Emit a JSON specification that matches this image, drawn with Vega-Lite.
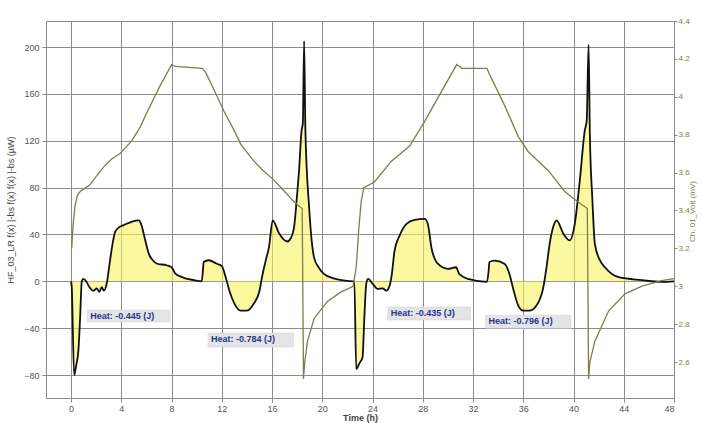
{
  "$schema": "https://vega.github.io/schema/vega-lite/v6.json",
  "width": 628,
  "height": 377,
  "autosize": {"type": "none"},
  "padding": {"left": 46, "top": 21, "right": 28, "bottom": 25},
  "background": "white",
  "config": {
    "view": {"stroke": "#8a8a8a", "strokeWidth": 1},
    "font": "Liberation Sans",
    "axis": {
      "labelFont": "Liberation Sans", "labelFontSize": 9, "labelColor": "#555555",
      "titleFont": "Liberation Sans", "titleFontSize": 9, "titleColor": "#444444", "titleFontWeight": "normal",
      "domainColor": "#8a8a8a", "tickColor": "#8a8a8a", "tickSize": 4,
      "gridColor": "#8c8c8c", "gridWidth": 1
    }
  },
  "datasets": {
    "heat": [
      {"t": 0, "hf": 0}, {"t": 0.05, "hf": -5}, {"t": 0.24, "hf": -80}, {"t": 0.4, "hf": -72}, {"t": 0.58, "hf": -59},
      {"t": 0.72, "hf": -30}, {"t": 0.85, "hf": 0}, {"t": 0.98, "hf": 2}, {"t": 1.2, "hf": 0}, {"t": 1.46, "hf": -5},
      {"t": 1.78, "hf": -8}, {"t": 2.04, "hf": -6}, {"t": 2.25, "hf": -9}, {"t": 2.44, "hf": -5}, {"t": 2.6, "hf": -8},
      {"t": 2.85, "hf": -1}, {"t": 3.0, "hf": 10}, {"t": 3.1, "hf": 18}, {"t": 3.3, "hf": 32}, {"t": 3.5, "hf": 42},
      {"t": 3.8, "hf": 46}, {"t": 4.2, "hf": 48}, {"t": 4.85, "hf": 51}, {"t": 5.4, "hf": 52}, {"t": 5.6, "hf": 48},
      {"t": 5.9, "hf": 35}, {"t": 6.2, "hf": 23}, {"t": 6.5, "hf": 18}, {"t": 6.85, "hf": 15}, {"t": 7.6, "hf": 13.7},
      {"t": 8.0, "hf": 12}, {"t": 8.3, "hf": 6.6}, {"t": 8.97, "hf": 3}, {"t": 9.8, "hf": 1}, {"t": 10.4, "hf": 0},
      {"t": 10.5, "hf": 10}, {"t": 10.55, "hf": 16.5}, {"t": 10.95, "hf": 18}, {"t": 11.6, "hf": 15}, {"t": 12.0, "hf": 13},
      {"t": 12.3, "hf": 3.7}, {"t": 12.6, "hf": -8}, {"t": 13.0, "hf": -19}, {"t": 13.5, "hf": -25}, {"t": 14.0, "hf": -25},
      {"t": 14.55, "hf": -19}, {"t": 15.0, "hf": -8}, {"t": 15.2, "hf": 3.7}, {"t": 15.5, "hf": 18}, {"t": 15.75, "hf": 29},
      {"t": 16.05, "hf": 52}, {"t": 16.55, "hf": 41}, {"t": 17.2, "hf": 34}, {"t": 17.5, "hf": 37}, {"t": 17.75, "hf": 46},
      {"t": 18.0, "hf": 75}, {"t": 18.15, "hf": 95}, {"t": 18.35, "hf": 129}, {"t": 18.45, "hf": 135}, {"t": 18.55, "hf": 205},
      {"t": 18.65, "hf": 130}, {"t": 18.95, "hf": 63}, {"t": 19.15, "hf": 35}, {"t": 19.35, "hf": 20}, {"t": 19.7, "hf": 12},
      {"t": 20.1, "hf": 6.6}, {"t": 20.9, "hf": 2.5}, {"t": 21.8, "hf": 0.5}, {"t": 22.5, "hf": 0},
      {"t": 22.55, "hf": 0}, {"t": 22.7, "hf": -75}, {"t": 22.95, "hf": -70}, {"t": 23.2, "hf": -65}, {"t": 23.35, "hf": -30},
      {"t": 23.5, "hf": -2}, {"t": 23.65, "hf": 2}, {"t": 24.0, "hf": -2}, {"t": 24.4, "hf": -6.5}, {"t": 24.8, "hf": -6},
      {"t": 25.1, "hf": -8}, {"t": 25.35, "hf": -4}, {"t": 25.5, "hf": 3.5}, {"t": 25.75, "hf": 26}, {"t": 26.15, "hf": 39},
      {"t": 26.7, "hf": 49}, {"t": 27.35, "hf": 52.5}, {"t": 28.15, "hf": 53.3}, {"t": 28.4, "hf": 49}, {"t": 28.7, "hf": 28},
      {"t": 29.2, "hf": 15}, {"t": 30.0, "hf": 10.6}, {"t": 30.65, "hf": 12}, {"t": 30.9, "hf": 6.3}, {"t": 31.6, "hf": 2},
      {"t": 33.1, "hf": -0.5}, {"t": 33.25, "hf": 10}, {"t": 33.3, "hf": 16.5}, {"t": 33.7, "hf": 17.7}, {"t": 34.5, "hf": 15},
      {"t": 34.9, "hf": 6.3}, {"t": 35.2, "hf": -6.5}, {"t": 35.6, "hf": -20.7}, {"t": 36.0, "hf": -25}, {"t": 36.5, "hf": -25},
      {"t": 37.2, "hf": -18}, {"t": 37.6, "hf": -5}, {"t": 37.85, "hf": 12}, {"t": 38.1, "hf": 32}, {"t": 38.4, "hf": 47},
      {"t": 38.65, "hf": 52}, {"t": 39.2, "hf": 40.5}, {"t": 39.7, "hf": 35}, {"t": 40.1, "hf": 49}, {"t": 40.5, "hf": 86},
      {"t": 40.9, "hf": 129}, {"t": 41.05, "hf": 137}, {"t": 41.2, "hf": 202}, {"t": 41.3, "hf": 126}, {"t": 41.5, "hf": 70},
      {"t": 41.7, "hf": 32}, {"t": 42.1, "hf": 18}, {"t": 42.5, "hf": 12}, {"t": 43.6, "hf": 3.5}, {"t": 45.45, "hf": 1},
      {"t": 47.0, "hf": -0.5}, {"t": 48.0, "hf": 0}
    ],
    "volt": [
      {"t": 0.05, "v": 3.2}, {"t": 0.15, "v": 3.32}, {"t": 0.3, "v": 3.42}, {"t": 0.5, "v": 3.48}, {"t": 0.72, "v": 3.5},
      {"t": 1.5, "v": 3.535}, {"t": 2.0, "v": 3.58}, {"t": 2.6, "v": 3.63}, {"t": 3.2, "v": 3.67}, {"t": 3.9, "v": 3.7},
      {"t": 4.85, "v": 3.77}, {"t": 5.5, "v": 3.84}, {"t": 6.05, "v": 3.92}, {"t": 7.1, "v": 4.06}, {"t": 8.0, "v": 4.17},
      {"t": 8.3, "v": 4.16}, {"t": 10.45, "v": 4.15}, {"t": 10.7, "v": 4.13}, {"t": 11.5, "v": 4.02}, {"t": 12.2, "v": 3.92},
      {"t": 13.0, "v": 3.82}, {"t": 13.5, "v": 3.75}, {"t": 14.55, "v": 3.66}, {"t": 15.3, "v": 3.61}, {"t": 16.15, "v": 3.56},
      {"t": 17.0, "v": 3.5}, {"t": 17.6, "v": 3.456}, {"t": 18.0, "v": 3.43}, {"t": 18.4, "v": 3.41}, {"t": 18.5, "v": 2.51},
      {"t": 18.6, "v": 2.6}, {"t": 18.82, "v": 2.71}, {"t": 19.35, "v": 2.83}, {"t": 20.4, "v": 2.92}, {"t": 21.5, "v": 2.97},
      {"t": 22.45, "v": 3.0},
      {"t": 22.7, "v": 3.1}, {"t": 22.9, "v": 3.3}, {"t": 23.1, "v": 3.45}, {"t": 23.3, "v": 3.52}, {"t": 24.15, "v": 3.55},
      {"t": 25.5, "v": 3.66}, {"t": 26.95, "v": 3.74}, {"t": 28.15, "v": 3.87}, {"t": 29.5, "v": 4.03}, {"t": 30.7, "v": 4.17},
      {"t": 31.1, "v": 4.15}, {"t": 33.1, "v": 4.15}, {"t": 33.3, "v": 4.12}, {"t": 34.5, "v": 3.956}, {"t": 35.6, "v": 3.79},
      {"t": 36.4, "v": 3.71}, {"t": 38.0, "v": 3.61}, {"t": 39.3, "v": 3.5}, {"t": 40.25, "v": 3.45}, {"t": 40.9, "v": 3.42},
      {"t": 41.1, "v": 3.41}, {"t": 41.2, "v": 2.51}, {"t": 41.3, "v": 2.6}, {"t": 41.7, "v": 2.71}, {"t": 42.8, "v": 2.87},
      {"t": 44.1, "v": 2.96}, {"t": 45.45, "v": 3.0}, {"t": 47.0, "v": 3.03}, {"t": 48.0, "v": 3.04}
    ],
    "notes": [
      {"t": 1.28, "t2": 7.9, "hf": -24.5, "hf2": -34.7, "label": "Heat:  -0.445 (J)"},
      {"t": 10.9, "t2": 17.7, "hf": -44.1, "hf2": -56.1, "label": "Heat:  -0.784 (J)"},
      {"t": 25.2, "t2": 31.8, "hf": -21.9, "hf2": -33.0, "label": "Heat:  -0.435 (J)"},
      {"t": 33.0, "t2": 39.8, "hf": -28.9, "hf2": -40.0, "label": "Heat:  -0.796 (J)"}
    ]
  },
  "encoding": {
    "x": {
      "field": "t", "type": "quantitative",
      "scale": {"domain": [-2, 48], "nice": false, "zero": false},
      "axis": {
        "title": "Time (h)", "titleFontWeight": "bold", "titlePadding": 0,
        "values": [0, 4, 8, 12, 16, 20, 24, 28, 32, 36, 40, 44, 48],
        "grid": true, "labelPadding": 2, "domain": false
      }
    }
  },
  "layer": [
    {
      "encoding": {
        "y": {
          "field": "hf", "type": "quantitative",
          "scale": {"domain": [-99.6, 222.2], "nice": false, "zero": false},
          "axis": {
            "title": "HF_03_LR f(x) |-bs f(x) f(x) |-bs (µW)",
            "values": [-80, -40, 0, 40, 80, 120, 160, 200],
            "grid": true, "labelPadding": 3, "titlePadding": 8, "domain": false
          }
        }
      },
      "layer": [
        {
          "data": {"name": "heat"},
          "mark": {"type": "area", "color": "#faf361", "opacity": 0.6, "interpolate": "monotone"},
          "encoding": {"y2": {"datum": 0}}
        },
        {
          "data": {"name": "heat"},
          "mark": {"type": "line", "color": "#111111", "strokeWidth": 1.8, "interpolate": "monotone"}
        },
        {
          "data": {"name": "notes"},
          "mark": {"type": "rect", "color": "#e4e4e8", "stroke": "#d0d0d4", "strokeWidth": 0.5},
          "encoding": {"x2": {"field": "t2"}, "y2": {"field": "hf2"}}
        },
        {
          "data": {"name": "notes"},
          "mark": {"type": "text", "align": "left", "baseline": "top", "dx": 3, "dy": 2, "fontSize": 9, "fontWeight": "bold", "color": "#28348a"},
          "encoding": {"text": {"field": "label"}}
        }
      ]
    },
    {
      "data": {"name": "volt"},
      "mark": {"type": "line", "color": "#7f7d45", "strokeWidth": 1.3},
      "encoding": {
        "y": {
          "field": "v", "type": "quantitative",
          "scale": {"domain": [2.41, 4.4], "nice": false, "zero": false},
          "axis": {
            "orient": "right", "title": "Ch. 01_Volt (mV)", "titleAngle": 270, "titleColor": "#7f7d45",
            "titleFontSize": 8, "titleX": 22, "titleY": 190, "titleAnchor": "middle",
            "values": [2.6, 2.8, 3, 3.2, 3.4, 3.6, 3.8, 4, 4.2, 4.4], "format": "~g",
            "grid": false, "labelColor": "#7f7d45", "labelFontSize": 8, "labelPadding": 1, "tickSize": 3, "domain": false
          }
        }
      }
    }
  ],
  "resolve": {"scale": {"y": "independent"}}
}
